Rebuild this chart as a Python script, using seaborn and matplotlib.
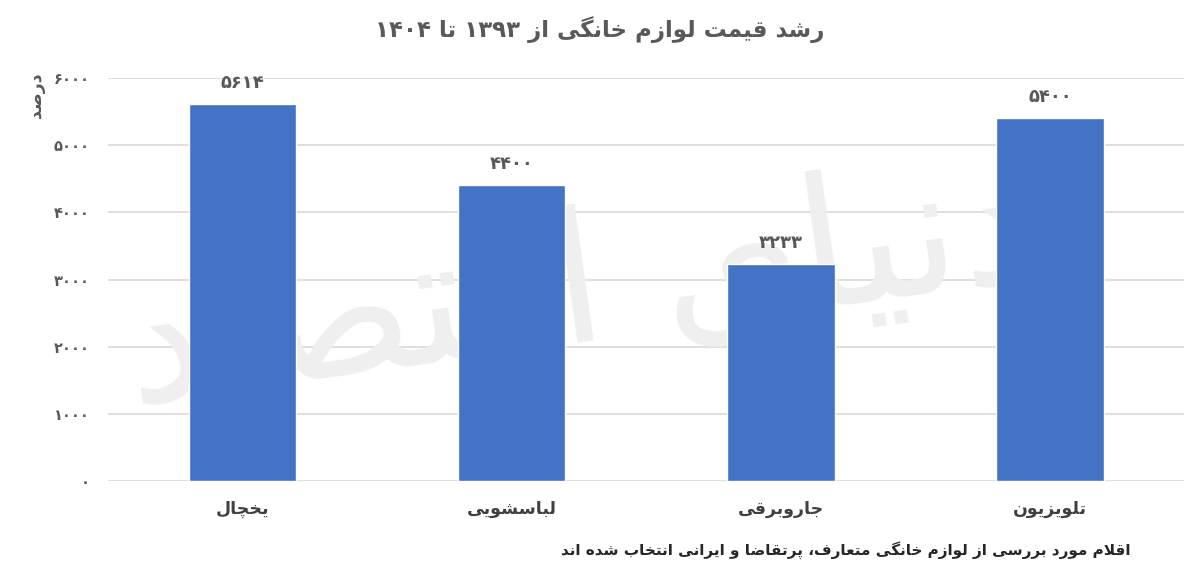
import re
import numpy as np
import pandas as pd
import matplotlib
matplotlib.use('Agg')
import matplotlib.pyplot as plt
import seaborn as sns
from matplotlib.ticker import FuncFormatter

# data
categories = ['یخچال', 'لباسشویی', 'جاروبرقی', 'تلویزیون']
growth = [5614, 4400, 3233, 5400]
y_ticks = [0, 1000, 2000, 3000, 4000, 5000, 6000]

title_txt = 'رشد قیمت لوازم خانگی از ۱۳۹۳ تا ۱۴۰۴'
ylabel_txt = 'درصد'
note_txt = 'اقلام مورد بررسی از لوازم خانگی متعارف، پرتقاضا و ایرانی انتخاب شده اند'
watermark_txt = 'دنیای اقتصاد'

# --- minimal arabic/persian shaping (matplotlib has no bidi) ---
# isolated, final, initial, medial
FORMS = {
    'ا': ('\uFE8D', '\uFE8E', None, None),
    'آ': ('\uFE81', '\uFE82', None, None),
    'ب': ('\uFE8F', '\uFE90', '\uFE91', '\uFE92'),
    'پ': ('\uFB56', '\uFB57', '\uFB58', '\uFB59'),
    'ت': ('\uFE95', '\uFE96', '\uFE97', '\uFE98'),
    'ث': ('\uFE99', '\uFE9A', '\uFE9B', '\uFE9C'),
    'ج': ('\uFE9D', '\uFE9E', '\uFE9F', '\uFEA0'),
    'چ': ('\uFB7A', '\uFB7B', '\uFB7C', '\uFB7D'),
    'ح': ('\uFEA1', '\uFEA2', '\uFEA3', '\uFEA4'),
    'خ': ('\uFEA5', '\uFEA6', '\uFEA7', '\uFEA8'),
    'د': ('\uFEA9', '\uFEAA', None, None),
    'ذ': ('\uFEAB', '\uFEAC', None, None),
    'ر': ('\uFEAD', '\uFEAE', None, None),
    'ز': ('\uFEAF', '\uFEB0', None, None),
    'ژ': ('\uFB8A', '\uFB8B', None, None),
    'س': ('\uFEB1', '\uFEB2', '\uFEB3', '\uFEB4'),
    'ش': ('\uFEB5', '\uFEB6', '\uFEB7', '\uFEB8'),
    'ص': ('\uFEB9', '\uFEBA', '\uFEBB', '\uFEBC'),
    'ض': ('\uFEBD', '\uFEBE', '\uFEBF', '\uFEC0'),
    'ط': ('\uFEC1', '\uFEC2', '\uFEC3', '\uFEC4'),
    'ع': ('\uFEC9', '\uFECA', '\uFECB', '\uFECC'),
    'ف': ('\uFED1', '\uFED2', '\uFED3', '\uFED4'),
    'ق': ('\uFED5', '\uFED6', '\uFED7', '\uFED8'),
    'ک': ('\uFB8E', '\uFB8F', '\uFB90', '\uFB91'),
    'گ': ('\uFB92', '\uFB93', '\uFB94', '\uFB95'),
    'ل': ('\uFEDD', '\uFEDE', '\uFEDF', '\uFEE0'),
    'م': ('\uFEE1', '\uFEE2', '\uFEE3', '\uFEE4'),
    'ن': ('\uFEE5', '\uFEE6', '\uFEE7', '\uFEE8'),
    'ه': ('\uFEE9', '\uFEEA', '\uFEEB', '\uFEEC'),
    'و': ('\uFEED', '\uFEEE', None, None),
    'ی': ('\uFBFC', '\uFBFD', '\uFBFE', '\uFBFF'),
}


def dual(c):
    return c in FORMS and FORMS[c][2] is not None


def shape(text):
    out = []
    i = 0
    while i < len(text):
        c = text[i]
        if c not in FORMS:
            out.append(c)
            i += 1
            continue
        prev_join = i > 0 and dual(text[i - 1])
        if c == 'ل' and i + 1 < len(text) and text[i + 1] == 'ا':
            out.append('\uFEFC' if prev_join else '\uFEFB')
            i += 2
            continue
        next_join = dual(c) and i + 1 < len(text) and text[i + 1] in FORMS
        f = FORMS[c]
        if prev_join and next_join:
            out.append(f[3])
        elif prev_join:
            out.append(f[1])
        elif next_join:
            out.append(f[2])
        else:
            out.append(f[0])
        i += 1
    vis = ''.join(out)[::-1]
    # digits keep left-to-right order
    return re.sub('[۰-۹0-9]+', lambda m: m.group(0)[::-1], vis)


fa_digits = str.maketrans('0123456789', '۰۱۲۳۴۵۶۷۸۹')

df = pd.DataFrame({'item': [shape(c) for c in categories], 'growth': growth})

sns.set_style('white')
plt.rcParams['font.family'] = ['DejaVu Sans']

fig = plt.figure(figsize=(12, 5.75), dpi=100)
ax = fig.add_axes([0.09, 0.1635, 0.897, 0.7008])

sns.barplot(data=df, x='item', y='growth', color='#4472C4', width=0.4,
            saturation=1, ax=ax, zorder=3)

ax.set_xlim(-0.5, 3.5)
ax.set_ylim(0, 6000)
ax.set_yticks(y_ticks)
ax.yaxis.set_major_formatter(FuncFormatter(lambda v, p: str(int(v)).translate(fa_digits)))
ax.grid(axis='y', color='#d9d9d9', linewidth=1.2, zorder=0)
ax.set_axisbelow(True)
for s in ax.spines.values():
    s.set_visible(False)
ax.tick_params(axis='both', length=0)
ax.tick_params(axis='y', labelsize=10.5, labelcolor='#595959', pad=13)
ax.tick_params(axis='x', labelsize=12.5, labelcolor='#404040', pad=14)
for lab in ax.get_yticklabels():
    lab.set_fontweight('bold')
for lab in ax.get_xticklabels():
    lab.set_fontweight('bold')
ax.set_xlabel('')
ax.set_ylabel('')

for i, v in enumerate(growth):
    ax.text(i, v + 180, str(v).translate(fa_digits), ha='center', va='bottom',
            fontsize=13, fontweight='bold', color='#595959', zorder=4)

# watermark
ax.text(0.44, 0.47, shape(watermark_txt), transform=ax.transAxes, ha='center', va='center',
        fontsize=130, color='#efefef', rotation=8, zorder=1)

fig.text(0.03, 0.835, shape(ylabel_txt), rotation=90, ha='center', va='center',
         fontsize=12.5, fontweight='bold', color='#595959')
fig.text(0.5, 0.948, shape(title_txt), ha='center', va='center', fontsize=16.5,
         fontweight='bold', color='#595959')
fig.text(0.942, 0.043, shape(note_txt), ha='right', va='center', fontsize=11,
         fontweight='bold', color='#262626')

fig.savefig('out.png', dpi=100)
